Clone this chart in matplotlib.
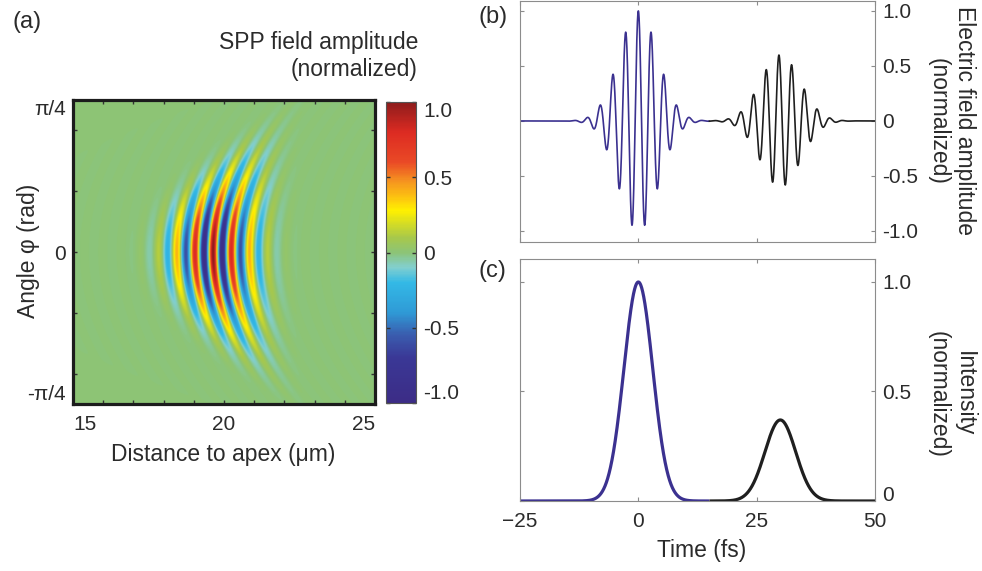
import numpy as np
import matplotlib
matplotlib.use("Agg")
import matplotlib.pyplot as plt
from matplotlib.colors import LinearSegmentedColormap

# ─── Values ──────────────────────────────────────────────────────────────────
# (a) SPP field map: wave packet on (distance to apex, angle)
DIST_RANGE     = [15.0, 25.0]              # µm
PHI_RANGE      = [-np.pi / 4, np.pi / 4]   # rad
SPP_WAVELENGTH = 0.61                      # µm, red-to-red fringe spacing
PHASE_CENTER   = 19.64                     # µm, central maximum at phi = 0
PHASE_CURV     = 3.3                       # µm/rad², bending of the fringes
ENV_CURV       = 4.5                       # µm/rad², bending of the packet
ENV_WIDTH      = 0.9                       # µm, packet width at phi = 0
ENV_SHRINK     = 1.0                       # 1/rad², narrowing away from 0
ANG_WIDTH      = 0.26                      # rad, angular width

# (b), (c) pulses in time
T_RANGE        = [-25.0, 50.0]             # fs
SPLIT_T        = 15.0                      # blue before, black after
CARRIER_PERIOD = 2.7                       # fs
PULSE_CENTERS  = [0.0, 30.0]               # fs
FIELD_AMPS     = [1.0, 0.6]
FIELD_WIDTHS   = [4.1, 4.2]                # fs
INT_PEAKS      = [1.0, 0.37]
INT_WIDTHS     = [4.3, 4.6]                # fs

CB_TICKS   = [-1.0, -0.5, 0.0, 0.5, 1.0]
CB_LABELS  = ["-1.0", "-0.5", "0", "0.5", "1.0"]
B_TICKS    = [-1.0, -0.5, 0.0, 0.5, 1.0]
B_LABELS   = ["-1.0", "-0.5", "0", "0.5", "1.0"]
C_TICKS    = [0.0, 0.5, 1.0]
C_LABELS   = ["0", "0.5", "1.0"]
T_TICKS    = [-25, 0, 25, 50]
T_LABELS   = ["\u221225", "0", "25", "50"]

# ─── Style ───────────────────────────────────────────────────────────────────
TXT   = "#2b2b2b"
BLUE  = "#3b3190"
BLACK = "#1f1f1f"
GRAY  = "#8c8c8c"

CMAP_POS = [0.0, 0.15, 0.225, 0.30, 0.40, 0.45, 0.50, 0.55, 0.64,
            0.68, 0.74, 0.80, 0.90, 1.0]
CMAP_COL = ["#3c2c86", "#3a3896", "#3a5cae", "#2f9ad6", "#33b9e6",
            "#82cfcf", "#8cc477", "#a8c84a", "#fff000", "#fdc70f",
            "#f59120", "#ea4a26", "#dd2b22", "#8e1c1c"]
cmap = LinearSegmentedColormap.from_list("spp", list(zip(CMAP_POS, CMAP_COL)))

plt.rcParams.update({
    "font.family": ["Liberation Sans", "DejaVu Sans"],
    "font.size": 15,
    "text.color": TXT,
    "xtick.color": TXT,
    "ytick.color": TXT,
    "xtick.labelcolor": TXT,
    "ytick.labelcolor": TXT,
})

W, H = 982, 571
fig = plt.figure(figsize=(W / 100, H / 100), dpi=100)


def px_axes(l, t, r, b):
    return fig.add_axes([l / W, 1 - b / H, (r - l) / W, (b - t) / H])


# ─── (a) field map ───────────────────────────────────────────────────────────
x = np.linspace(DIST_RANGE[0], DIST_RANGE[1], 700)
phi = np.linspace(PHI_RANGE[0], PHI_RANGE[1], 600)
X, P = np.meshgrid(x, phi)
x_env = PHASE_CENTER + ENV_CURV * P ** 2
x_ph = PHASE_CENTER + PHASE_CURV * P ** 2
sig = ENV_WIDTH * np.clip(1 - ENV_SHRINK * P ** 2, 0.2, None)
field = (np.exp(-(X - x_env) ** 2 / (2 * sig ** 2))
         * np.exp(-P ** 2 / (2 * ANG_WIDTH ** 2))
         * np.cos(2 * np.pi * (X - x_ph) / SPP_WAVELENGTH))

axa = px_axes(73, 100, 375, 404)
im = axa.imshow(field, extent=[*DIST_RANGE, *PHI_RANGE], origin="lower",
                aspect="auto", cmap=cmap, vmin=-1, vmax=1,
                interpolation="bilinear")
for s in axa.spines.values():
    s.set_linewidth(2.3)
    s.set_color("#1c1c1c")
axa.set_xticks([15, 20, 25])
axa.set_xticks(np.arange(16, 25), minor=True)
axa.set_xticklabels(["15", "20", "25"])
axa.set_yticks([-np.pi / 4, 0, np.pi / 4])
axa.set_yticks([-np.pi / 5, -np.pi / 10, np.pi / 10, np.pi / 5], minor=True)
axa.set_yticklabels(["-\u03c0/4", "0", "\u03c0/4"])
axa.tick_params(which="both", direction="in", top=True, right=True,
                length=3, width=1, color="#333333", labelsize=15)
axa.tick_params(axis="x", pad=8)
axa.tick_params(axis="y", pad=5)
xl = axa.get_xticklabels()
xl[0].set_ha("left")
xl[-1].set_ha("right")
yl = axa.get_yticklabels()
yl[0].set_va("bottom")
yl[-1].set_va("top")

cax = px_axes(386, 102, 416, 403)
cb = fig.colorbar(im, cax=cax)
cb.set_ticks(CB_TICKS, labels=CB_LABELS)
cb.outline.set_linewidth(0.8)
cb.outline.set_edgecolor("#555555")
cax.tick_params(direction="in", left=True, right=True, length=3, width=1,
                color="#333333", labelsize=15, pad=5)
cl = cax.get_yticklabels()
cl[0].set_va("bottom")
cl[-1].set_va("top")

fig.text(418 / W, 1 - 56 / H, "SPP field amplitude\n(normalized)",
         ha="right", va="center", multialignment="right", fontsize=16.5)
fig.text(28 / W, 1 - 251 / H, "Angle \u03c6 (rad)", rotation=90,
         ha="center", va="center", fontsize=16.5)
fig.text(223 / W, 1 - 454 / H, "Distance to apex (\u03bcm)",
         ha="center", va="center", fontsize=16.5)
fig.text(12 / W, 1 - 22 / H, "(a)", ha="left", va="center", fontsize=17)

# ─── (b), (c) pulses ─────────────────────────────────────────────────────────
t = np.linspace(T_RANGE[0], T_RANGE[1], 3000)
efield = np.zeros_like(t)
inten = np.zeros_like(t)
for tc, a, w, ip, iw in zip(PULSE_CENTERS, FIELD_AMPS, FIELD_WIDTHS,
                            INT_PEAKS, INT_WIDTHS):
    efield += a * np.exp(-(t - tc) ** 2 / (2 * w ** 2)) \
        * np.cos(2 * np.pi * t / CARRIER_PERIOD)
    inten += ip * np.exp(-(t - tc) ** 2 / iw ** 2)
first = t <= SPLIT_T
second = t >= SPLIT_T

axb = px_axes(520, 1, 875, 242)
axc = px_axes(520, 259, 875, 501)

axb.plot(t[first], efield[first], color=BLUE, lw=1.2)
axb.plot(t[second], efield[second], color=BLACK, lw=1.2)
axb.set_ylim(-1.1, 1.09)
axb.set_yticks(B_TICKS, labels=B_LABELS)

axc.plot(t[first], inten[first], color=BLUE, lw=2.3, solid_capstyle="butt")
axc.plot(t[second], inten[second], color=BLACK, lw=2.3, solid_capstyle="butt")
axc.set_ylim(0, 1.105)
axc.set_yticks(C_TICKS, labels=C_LABELS)

for ax in (axb, axc):
    ax.set_xlim(*T_RANGE)
    ax.set_xticks(T_TICKS)
    for s in ax.spines.values():
        s.set_linewidth(0.8)
        s.set_color(GRAY)
    ax.tick_params(which="both", direction="in", top=True, bottom=True,
                   left=True, right=True, labelleft=False, labelright=True,
                   length=3, width=0.8, color=GRAY, labelsize=15, pad=5)

axb.tick_params(labelbottom=False)
axc.set_xticklabels(T_LABELS)
axc.tick_params(axis="x", pad=8)
axc.get_yticklabels()[0].set_va("baseline")

fig.text(951 / W, 1 - 121 / H, "Electric field amplitude\n(normalized)",
         rotation=270, ha="center", va="center", fontsize=16.5)
fig.text(951 / W, 1 - 394 / H, "Intensity\n(normalized)",
         rotation=270, ha="center", va="center", fontsize=16.5)
fig.text(702 / W, 1 - 550 / H, "Time (fs)", ha="center", va="center",
         fontsize=16.5)
fig.text(479 / W, 1 - 17 / H, "(b)", ha="left", va="center", fontsize=17)
fig.text(479 / W, 1 - 271 / H, "(c)", ha="left", va="center", fontsize=17)

fig.savefig("out.png", dpi=100)
